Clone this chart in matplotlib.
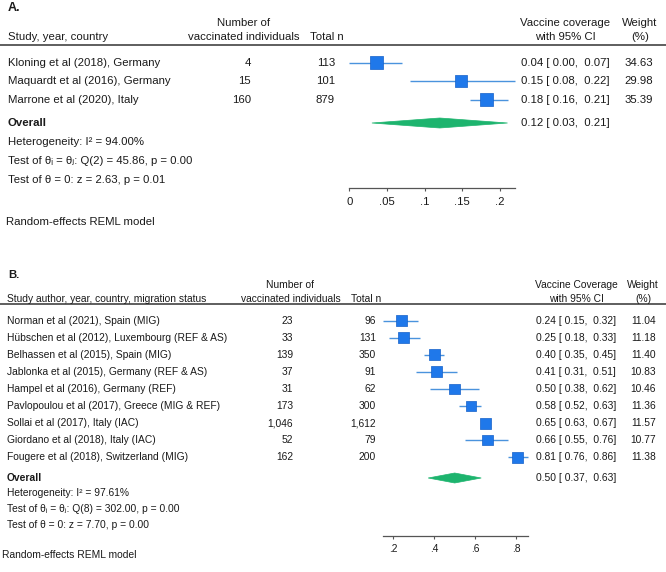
import matplotlib
matplotlib.use("Agg")
import matplotlib.pyplot as plt
from matplotlib.patches import Polygon
from matplotlib.transforms import blended_transform_factory as blend

# ---------------- data ----------------
# Panel A
a_studies = ["Kloning et al (2018), Germany", "Maquardt et al (2016), Germany", "Marrone et al (2020), Italy"]
a_vacc = [4, 15, 160]
a_total = [113, 101, 879]
a_est = [0.036, 0.148, 0.182]
a_lo = [0.00, 0.08, 0.16]
a_hi = [0.07, 0.22, 0.21]
a_weight = [34.63, 29.98, 35.39]
a_overall = (0.12, 0.03, 0.21)
a_stats = ["Heterogeneity: I\u00b2 = 94.00%",
           "Test of \u03b8\u1d62 = \u03b8\u2c7c: Q(2) = 45.86, p = 0.00",
           "Test of \u03b8 = 0: z = 2.63, p = 0.01"]
a_ticks = [0, 0.05, 0.1, 0.15, 0.2]
a_ticklabels = ["0", ".05", ".1", ".15", ".2"]
a_axis_range = (0.0, 0.22)

# Panel B
b_studies = ["Norman et al (2021), Spain (MIG)",
             "H\u00fcbschen et al (2012), Luxembourg (REF & AS)",
             "Belhassen et al (2015), Spain (MIG)",
             "Jablonka et al (2015), Germany (REF & AS)",
             "Hampel et al (2016), Germany (REF)",
             "Pavlopoulou et al (2017), Greece (MIG & REF)",
             "Sollai et al (2017), Italy (IAC)",
             "Giordano et al (2018), Italy (IAC)",
             "Fougere et al (2018), Switzerland (MIG)"]
b_vacc = [23, 33, 139, 37, 31, 173, 1046, 52, 162]
b_total = [96, 131, 350, 91, 62, 300, 1612, 79, 200]
b_est = [0.24, 0.25, 0.40, 0.41, 0.50, 0.58, 0.65, 0.66, 0.81]
b_lo = [0.15, 0.18, 0.35, 0.31, 0.38, 0.52, 0.63, 0.55, 0.76]
b_hi = [0.32, 0.33, 0.45, 0.51, 0.62, 0.63, 0.67, 0.76, 0.86]
b_weight = [11.04, 11.18, 11.40, 10.83, 10.46, 11.36, 11.57, 10.77, 11.38]
b_overall = (0.50, 0.37, 0.63)
b_stats = ["Heterogeneity: I\u00b2 = 97.61%",
           "Test of \u03b8\u1d62 = \u03b8\u2c7c: Q(8) = 302.00, p = 0.00",
           "Test of \u03b8 = 0: z = 7.70, p = 0.00"]
b_ticks = [0.2, 0.4, 0.6, 0.8]
b_ticklabels = [".2", ".4", ".6", ".8"]
b_axis_range = (0.15, 0.86)

# ---------------- style ----------------
W, H = 666, 572
TXT = "#1a1a1a"
SQ = "#1f78ea"
SQE = "#1560c8"
CI = "#4a93dd"
DIA = "#1db46e"
plt.rcParams["font.family"] = ["Liberation Sans", "DejaVu Sans"]

fig = plt.figure(figsize=(W / 100, H / 100), dpi=100)


def fx(px):
    return px / W


def fy(py):
    return 1 - py / H


def panel(L):
    FS = L["fs"]
    n = len(L["studies"])

    def ftext(px, py, s, **kw):
        kw.setdefault("color", TXT)
        kw.setdefault("va", "center")
        kw.setdefault("fontsize", FS)
        fig.text(fx(px), fy(py), s, **kw)

    ax_left, ax_right = L["ax_x"]
    ax_top, ax_bot = L["ax_y"]
    ax = fig.add_axes([fx(ax_left), fy(ax_bot), fx(ax_right) - fx(ax_left), fy(ax_top) - fy(ax_bot)])
    p0, v0, ppu = L["xmap"]
    ax.set_xlim(v0 + (ax_left - p0) / ppu, v0 + (ax_right - p0) / ppu)
    r0, dr = L["rows"]
    ax.set_ylim((ax_bot - r0) / dr, (ax_top - r0) / dr)
    overall_y = L["overall_idx"]

    ys = list(range(n))
    ax.hlines(ys, L["lo"], L["hi"], color=CI, lw=1.0, zorder=2)
    wmax = max(L["weight"])
    sizes = [((L["sq"] * (w / wmax) ** 0.5) * 72 / 100) ** 2 for w in L["weight"]]
    ax.scatter(L["est"], ys, s=sizes, marker="s", color=SQ, edgecolors=SQE, linewidths=0.5, zorder=3)
    e, lo, hi = L["overall"]
    hh = L["dia_h"] / dr
    ax.add_patch(Polygon([(lo, overall_y), (e, overall_y - hh), (hi, overall_y), (e, overall_y + hh)],
                         closed=True, facecolor=DIA, edgecolor=DIA, lw=0.5, zorder=3))

    for s in ["top", "right", "left"]:
        ax.spines[s].set_visible(False)
    ax.spines["bottom"].set_bounds(*L["axis_range"])
    ax.spines["bottom"].set_color("#555555")
    ax.spines["bottom"].set_linewidth(0.9)
    ax.set_yticks([])
    ax.set_xticks(L["ticks"])
    ax.set_xticklabels(L["ticklabels"])
    ax.tick_params(axis="x", direction="out", length=2.5, width=0.8, color="#555555",
                   labelsize=FS, labelcolor=TXT, pad=L["pad"])
    ax.patch.set_visible(False)

    tr = blend(fig.transFigure, ax.transData)
    c = L["cols"]
    kw = dict(transform=tr, va="center", color=TXT, fontsize=FS)
    for i in range(n):
        fig.text(fx(c["study"]), i, L["studies"][i], ha="left", **kw)
        fig.text(fx(c["vacc"]), i, f"{L['vacc'][i]:,}", ha="right", **kw)
        fig.text(fx(c["total"]), i, f"{L['total'][i]:,}", ha="right", **kw)
        fig.text(fx(c["ci"]), i, f"{L['est'][i]:.2f} [ {L['lo'][i]:.2f},  {L['hi'][i]:.2f}]",
                 ha="left", **kw)
        fig.text(fx(c["weight"]), i, f"{L['weight'][i]:.2f}", ha="right", **kw)
    fig.text(fx(c["study"]), overall_y, "Overall", ha="left", fontweight="bold", **kw)
    fig.text(fx(c["ci"]), overall_y, f"{e:.2f} [ {lo:.2f},  {hi:.2f}]", ha="left", **kw)

    h = L["hdr"]
    ftext(8, h["label_y"], L["panel"], fontweight="bold", fontsize=FS + 0.8)
    ftext(c["study"], h["y2"], L["study_hdr"], ha="left")
    ftext(h["vacc_c"], h["y1"], "Number of", ha="center")
    ftext(h["vacc_c"], h["y2"], "vaccinated individuals", ha="center")
    ftext(h["total_l"], h["y2"], "Total n", ha="left")
    ftext(h["ci_c"], h["y1"], L["ci_hdr"], ha="center")
    ftext(h["ci_c"], h["y2"], "with 95% CI", ha="center")
    ftext(h["w_c"], h["y1"], "Weight", ha="center")
    ftext(h["w_c"], h["y2"], "(%)", ha="center")
    fig.add_artist(plt.Line2D([0, 1], [fy(h["line"]), fy(h["line"])], color="#333333", lw=1.1,
                              transform=fig.transFigure))
    for s, py in zip(L["stats"], L["stats_y"]):
        ftext(c["study"], py, s, ha="left")
    ftext(L["reml"][0], L["reml"][1], "Random-effects REML model", ha="left")


panel(dict(
    fs=8.2,
    panel="A.", study_hdr="Study, year, country", ci_hdr="Vaccine coverage",
    studies=a_studies, vacc=a_vacc, total=a_total, est=a_est, lo=a_lo, hi=a_hi,
    weight=a_weight, overall=a_overall, stats=a_stats, ticks=a_ticks, ticklabels=a_ticklabels,
    axis_range=a_axis_range,
    ax_x=(335, 530), ax_y=(50, 188), xmap=(349.3, 0.0, 753.5), rows=(62.5, 18.65),
    overall_idx=(123.0 - 62.5) / 18.65, sq=13.0, dia_h=5.0, pad=4.2,
    cols=dict(study=8, vacc=251, total=335, ci=521, weight=653),
    hdr=dict(label_y=8, y1=22.5, y2=37.5, vacc_c=244, total_l=310, ci_c=565, w_c=640, line=45),
    stats_y=[142.2, 161.5, 179.8], reml=(6, 222.0),
))

panel(dict(
    fs=7.4,
    panel="B.", study_hdr="Study author, year, country, migration status", ci_hdr="Vaccine Coverage",
    studies=b_studies, vacc=b_vacc, total=b_total, est=b_est, lo=b_lo, hi=b_hi,
    weight=b_weight, overall=b_overall, stats=b_stats, ticks=b_ticks, ticklabels=b_ticklabels,
    axis_range=b_axis_range,
    ax_x=(372, 540), ax_y=(310, 536), xmap=(393.5, 0.2, 204.0), rows=(320.5, 17.09),
    overall_idx=(478.0 - 320.5) / 17.09, sq=11.0, dia_h=5.0, pad=3.6,
    cols=dict(study=7, vacc=293, total=376, ci=536, weight=656),
    hdr=dict(label_y=275, y1=285, y2=298.5, vacc_c=290.5, total_l=351, ci_c=576, w_c=643, line=304),
    stats_y=[493.5, 509.5, 525.5], reml=(2, 555.5),
))

fig.savefig("out.png", dpi=100)
